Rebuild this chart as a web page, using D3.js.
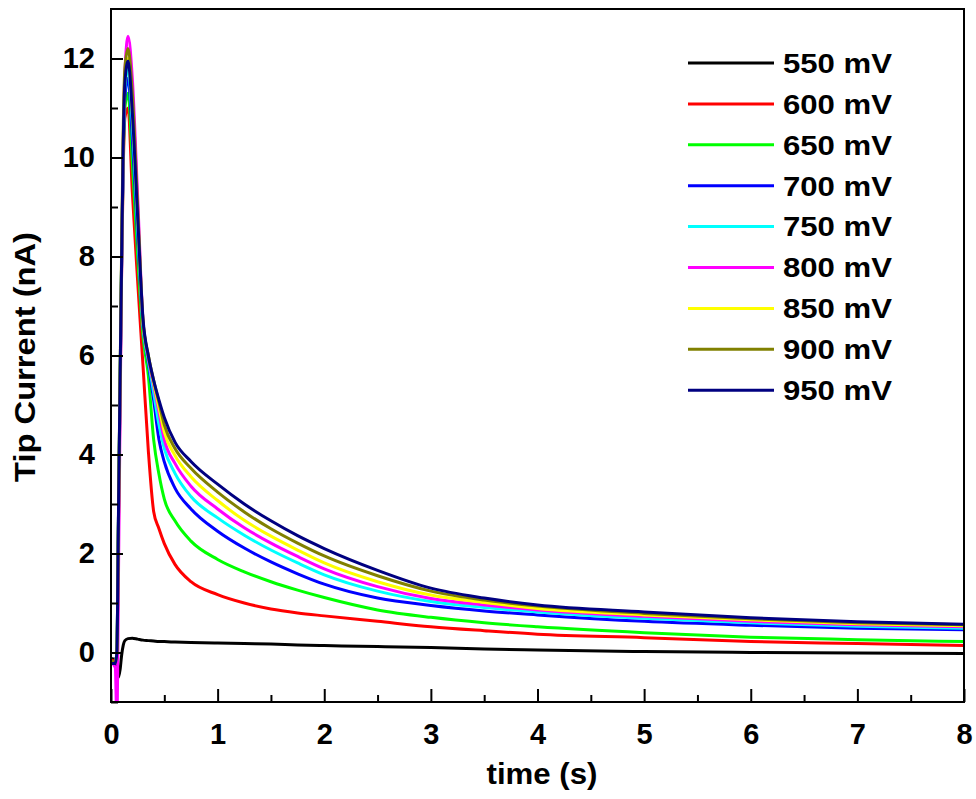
<!DOCTYPE html>
<html>
<head>
<meta charset="utf-8">
<style>
  body { margin: 0; background: #fff; }
  text { font-family: "Liberation Sans", Arial, sans-serif; font-weight: bold; fill: #000; }
</style>
</head>
<body>
<script src="https://d3js.org/d3.v7.min.js"></script>
<script>
// sample times (s), shared by every trace
var times = [0, 0.04, 0.055, 0.07, 0.085, 0.1, 0.115, 0.13, 0.16, 0.2, 0.25, 0.3, 0.35, 0.4, 0.45, 0.5,
             0.6, 0.75, 1, 1.25, 1.5, 1.75, 2, 2.5, 3, 3.5, 4, 5, 6, 7, 8];

// tip current (nA), one array per potential
var i550 = [-0.12, -0.14, -0.3, -0.5, -0.35, -0.05, 0.15, 0.24, 0.28, 0.29, 0.27, 0.25, 0.24, 0.23, 0.22, 0.22,
            0.21, 0.2, 0.19, 0.18, 0.17, 0.15, 0.14, 0.12, 0.1, 0.07, 0.05, 0.02, 0.0, -0.01, -0.02];
var i600 = [-0.15, -0.17, -0.1, 2.5, 5.2, 7.8, 9.8, 10.8, 11.0, 9.3, 7.5, 5.8, 4.08, 2.85, 2.5, 2.2,
            1.78, 1.43, 1.17, 1.0, 0.88, 0.8, 0.74, 0.63, 0.52, 0.44, 0.37, 0.3, 0.22, 0.18, 0.14];
var i650 = [-0.18, -0.2, -0.05, 2.6, 5.3, 7.9, 10.0, 11.0, 11.3, 9.9, 8.0, 6.4, 5.6, 4.3, 3.6, 3.1,
            2.66, 2.25, 1.88, 1.63, 1.43, 1.26, 1.11, 0.86, 0.71, 0.6, 0.52, 0.4, 0.31, 0.26, 0.22];
var i700 = [-0.2, -0.2, 0.0, 2.7, 5.4, 8.0, 10.1, 11.2, 11.6, 10.4, 8.4, 6.6, 5.85, 5.1, 4.3, 3.85,
            3.32, 2.9, 2.45, 2.11, 1.83, 1.59, 1.38, 1.1, 0.95, 0.84, 0.76, 0.63, 0.55, 0.49, 0.46];
var i750 = [-0.2, -0.2, 0.0, 2.7, 5.4, 8.0, 10.2, 11.4, 11.8, 10.7, 8.6, 6.6, 5.9, 5.25, 4.6, 4.12,
            3.62, 3.15, 2.72, 2.37, 2.07, 1.81, 1.57, 1.24, 1.03, 0.91, 0.82, 0.69, 0.6, 0.53, 0.49];
var i800 = [-0.2, -0.3, -1.4, 1.5, 4.8, 7.8, 10.3, 11.7, 12.45, 11.6, 9.2, 6.7, 5.95, 5.4, 4.85, 4.3,
            3.82, 3.36, 2.9, 2.52, 2.21, 1.94, 1.69, 1.33, 1.09, 0.96, 0.86, 0.73, 0.63, 0.56, 0.52];
var i850 = [-0.2, -0.2, 0.0, 2.7, 5.5, 8.1, 10.4, 11.6, 12.0, 10.9, 8.8, 6.7, 6.0, 5.45, 4.95, 4.45,
            3.98, 3.55, 3.07, 2.67, 2.35, 2.07, 1.81, 1.43, 1.16, 1.01, 0.89, 0.76, 0.66, 0.58, 0.54];
var i900 = [-0.2, -0.2, 0.0, 2.7, 5.5, 8.2, 10.6, 11.8, 12.2, 11.3, 9.0, 6.7, 6.0, 5.5, 5.05, 4.6,
            4.12, 3.72, 3.24, 2.84, 2.5, 2.21, 1.95, 1.55, 1.24, 1.06, 0.94, 0.79, 0.68, 0.6, 0.56];
var i950 = [-0.22, -0.22, 0.0, 2.8, 5.5, 8.0, 10.3, 11.5, 11.95, 10.9, 8.8, 6.75, 6.0, 5.5, 5.1, 4.75,
            4.25, 3.86, 3.4, 3.0, 2.66, 2.36, 2.1, 1.66, 1.3, 1.1, 0.96, 0.82, 0.7, 0.62, 0.57];

var labels = ["550 mV", "600 mV", "650 mV", "700 mV", "750 mV", "800 mV", "850 mV", "900 mV", "950 mV"];
var colors = ["#000000", "#ff0000", "#00ff00", "#0000ff", "#00ffff", "#ff00ff", "#ffff00", "#808000", "#000080"];
var series = [i550, i600, i650, i700, i750, i800, i850, i900, i950];

var xMajor = [0, 1, 2, 3, 4, 5, 6, 7, 8];
var xMinor = [0.5, 1.5, 2.5, 3.5, 4.5, 5.5, 6.5, 7.5];
var yMajor = [0, 2, 4, 6, 8, 10, 12];
var yMinor = [-1, 1, 3, 5, 7, 9, 11];

var W = 976, H = 799;
var margin = { top: 9, right: 12, bottom: 97, left: 111 };
var w = W - margin.left - margin.right,
    h = H - margin.top - margin.bottom;

var svg = d3.select("body").append("svg")
            .attr("width", W)
            .attr("height", H);

var g = svg.append("g").attr("transform", "translate(" + margin.left + "," + margin.top + ")");

var x = d3.scaleLinear().domain([0, 8]).range([0, w]);
var y = d3.scaleLinear().domain([-1, 13]).range([h, 0]);

g.append("clipPath").attr("id", "plotclip")
  .append("rect").attr("width", w).attr("height", h);

// traces
var line = d3.line()
             .x(function (d) { return x(d[0]); })
             .y(function (d) { return y(d[1]); })
             .curve(d3.curveMonotoneX);

var traces = g.append("g").attr("clip-path", "url(#plotclip)");
for (var i = 0; i < series.length; i++) {
  var pts = times.map(function (t, k) { return [t, series[i][k]]; });
  traces.append("path")
        .datum(pts)
        .attr("d", line)
        .attr("fill", "none")
        .attr("stroke", colors[i])
        .attr("stroke-width", 3)
        .attr("stroke-linejoin", "round");
}

// axes: inward ticks, minor ticks without labels
var fontSize = 29;
var xAxis = d3.axisBottom(x).tickValues(xMajor).tickSize(-13).tickPadding(21).tickFormat(d3.format("d"));
var xAxisMinor = d3.axisBottom(x).tickValues(xMinor).tickSize(-7).tickFormat("");
var yAxis = d3.axisLeft(y).tickValues(yMajor).tickSize(-12).tickPadding(16).tickFormat(d3.format("d"));
var yAxisMinor = d3.axisLeft(y).tickValues(yMinor).tickSize(-7).tickFormat("");

function styleAxis(sel) {
  sel.selectAll("path").remove();
  sel.selectAll("line").attr("stroke", "#000").attr("stroke-width", 2);
  sel.selectAll("text").style("font-size", fontSize + "px").style("font-family", null).attr("fill", "#000");
}

g.append("g").attr("transform", "translate(0," + h + ")").call(xAxis).call(styleAxis);
g.append("g").attr("transform", "translate(0," + h + ")").call(xAxisMinor).call(styleAxis);
g.append("g").call(yAxis).call(styleAxis);
g.append("g").call(yAxisMinor).call(styleAxis);

// frame
g.append("rect")
  .attr("width", w).attr("height", h)
  .attr("fill", "none")
  .attr("stroke", "#000")
  .attr("stroke-width", 2);

// axis titles (the original glyphs are a bit wider than Arial)
svg.append("text")
   .attr("x", 542)
   .attr("y", 784)
   .attr("text-anchor", "middle")
   .attr("textLength", 111)
   .attr("lengthAdjust", "spacingAndGlyphs")
   .style("font-size", fontSize + "px")
   .text("time (s)");

svg.append("text")
   .attr("transform", "translate(35,357) rotate(-90)")
   .attr("text-anchor", "middle")
   .attr("textLength", 250)
   .attr("lengthAdjust", "spacingAndGlyphs")
   .style("font-size", "30px")
   .text("Tip Current (nA)");

// legend
var legend = svg.append("g");
for (var j = 0; j < labels.length; j++) {
  var ly = 63 + j * 40.9;
  legend.append("line")
        .attr("x1", 688).attr("x2", 774)
        .attr("y1", ly).attr("y2", ly)
        .attr("stroke", colors[j])
        .attr("stroke-width", 3);
  legend.append("text")
        .attr("x", 783).attr("y", ly)
        .attr("dy", "0.35em")
        .attr("textLength", 109)
        .attr("lengthAdjust", "spacingAndGlyphs")
        .style("font-size", "28px")
        .text(labels[j]);
}
</script>
</body>
</html>
